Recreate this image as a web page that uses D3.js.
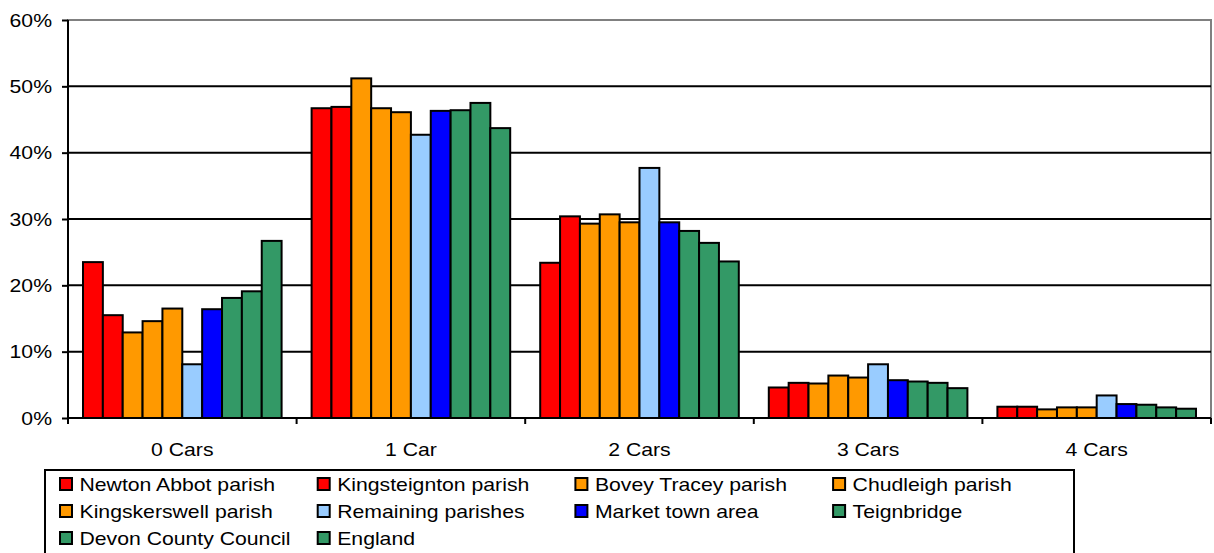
<!DOCTYPE html>
<html>
<head>
<meta charset="utf-8">
<script src="https://cdn.jsdelivr.net/npm/d3@7"></script>
<style>
  html, body { margin: 0; padding: 0; background: #fff; }
  svg { display: block; }
  text { font-family: "Liberation Sans", Arial, sans-serif; fill: #000; }
</style>
</head>
<body>
<svg id="chart" width="1214" height="553"></svg>
<script>
const categories = ["0 Cars", "1 Car", "2 Cars", "3 Cars", "4 Cars"];
const seriesNames = ["Newton Abbot parish", "Kingsteignton parish", "Bovey Tracey parish", "Chudleigh parish",
  "Kingskerswell parish", "Remaining parishes", "Market town area", "Teignbridge",
  "Devon County Council", "England"];
const seriesColors = ["#FF0000", "#FF0000", "#FF9900", "#FF9900", "#FF9900", "#99CCFF", "#0000FF", "#339966", "#339966", "#339966"];
// values in percent, one array per series, ordered as categories
const newtonAbbot   = [23.5, 46.7, 23.4, 4.6, 1.7];
const kingsteignton = [15.5, 46.9, 30.4, 5.3, 1.7];
const boveyTracey   = [12.9, 51.2, 29.3, 5.2, 1.3];
const chudleigh     = [14.6, 46.7, 30.7, 6.4, 1.6];
const kingskerswell = [16.5, 46.1, 29.5, 6.1, 1.6];
const remaining     = [8.1, 42.7, 37.7, 8.1, 3.4];
const marketTown    = [16.4, 46.3, 29.5, 5.7, 2.1];
const teignbridge   = [18.1, 46.4, 28.2, 5.5, 2.0];
const devon         = [19.1, 47.5, 26.4, 5.3, 1.6];
const england       = [26.7, 43.7, 23.6, 4.5, 1.4];
const seriesValues = [newtonAbbot, kingsteignton, boveyTracey, chudleigh, kingskerswell,
  remaining, marketTown, teignbridge, devon, england];
const yTicks = [0, 10, 20, 30, 40, 50, 60];

(function () {
const svg = d3.select("#chart");
const pLeft = 68, pRight = 1211, pTop = 20, pBottom = 418;
const FS = 18.6, SX = 1.14;

const x0 = d3.scaleBand().domain(categories).range([pLeft, pRight]);
const x1 = d3.scaleBand().domain(seriesNames).range([15, x0.bandwidth() - 15]);
const y = d3.scaleLinear().domain([0, 60]).range([pBottom, pTop]);

function stretchedText(g, x, yy, str, anchor) {
  g.append("text")
    .attr("transform", `translate(${x},${yy}) scale(${SX},1)`)
    .attr("text-anchor", anchor)
    .attr("font-size", FS)
    .text(str);
}

// plot border (gray)
svg.append("rect").attr("x", pLeft).attr("y", pTop).attr("width", pRight - pLeft).attr("height", pBottom - pTop)
  .attr("fill", "none").attr("stroke", "#808080").attr("stroke-width", 2);

// gridlines
svg.append("g").selectAll("line").data(yTicks.filter(t => t > 0 && t < 60)).join("line")
  .attr("x1", pLeft).attr("x2", pRight).attr("y1", d => y(d)).attr("y2", d => y(d))
  .attr("stroke", "#000").attr("stroke-width", 2);

// bars
const groups = svg.append("g").selectAll("g").data(categories).join("g")
  .attr("transform", d => `translate(${x0(d)},0)`);
groups.selectAll("rect").data((c, ci) => seriesNames.map((s, si) => ({ s, si, v: seriesValues[si][ci] })))
  .join("rect")
  .attr("x", d => x1(d.s))
  .attr("width", x1.bandwidth())
  .attr("y", d => y(d.v))
  .attr("height", d => y(0) - y(d.v))
  .attr("fill", d => seriesColors[d.si])
  .attr("stroke", "#000").attr("stroke-width", 2);

// y axis
const yAxis = svg.append("g").attr("transform", `translate(${pLeft},0)`)
  .call(d3.axisLeft(y).tickValues(yTicks).tickSize(6).tickFormat(""));
yAxis.select(".domain").attr("stroke", "#000").attr("stroke-width", 2).attr("d", `M0,${pBottom + 5}V${pTop}`);
yAxis.selectAll(".tick line").attr("stroke", "#000").attr("stroke-width", 2);
yTicks.forEach(t => stretchedText(svg, 52, y(t) + 6.7, t + "%", "end"));

// x axis
const xAxis = svg.append("g").attr("transform", `translate(0,${pBottom})`)
  .call(d3.axisBottom(x0).tickSize(0).tickFormat(""));
xAxis.select(".domain").attr("stroke", "#000").attr("stroke-width", 2).attr("d", `M${pLeft},0H${pRight}`);
const boundaries = categories.map(c => x0(c)).concat([pRight]);
xAxis.append("g").selectAll("line").data(boundaries).join("line")
  .attr("x1", d => d).attr("x2", d => d).attr("y1", 0).attr("y2", 6)
  .attr("stroke", "#000").attr("stroke-width", 2);
categories.forEach(c => stretchedText(svg, x0(c) + x0.bandwidth() / 2, 455.5, c, "middle"));

// legend
svg.append("rect").attr("x", 45).attr("y", 470).attr("width", 1029).attr("height", 100)
  .attr("fill", "#fff").attr("stroke", "#000").attr("stroke-width", 2);
const legend = svg.append("g");
seriesNames.forEach((s, i) => {
  const col = i % 4, row = Math.floor(i / 4);
  const lx = 60 + col * 257.7, ly = 478 + row * 27;
  legend.append("rect").attr("x", lx).attr("y", ly).attr("width", 12).attr("height", 12)
    .attr("fill", seriesColors[i]).attr("stroke", "#000").attr("stroke-width", 2);
  stretchedText(legend, lx + 19.5, ly + 12.8, s, "start");
});
})();
</script>
</body>
</html>
